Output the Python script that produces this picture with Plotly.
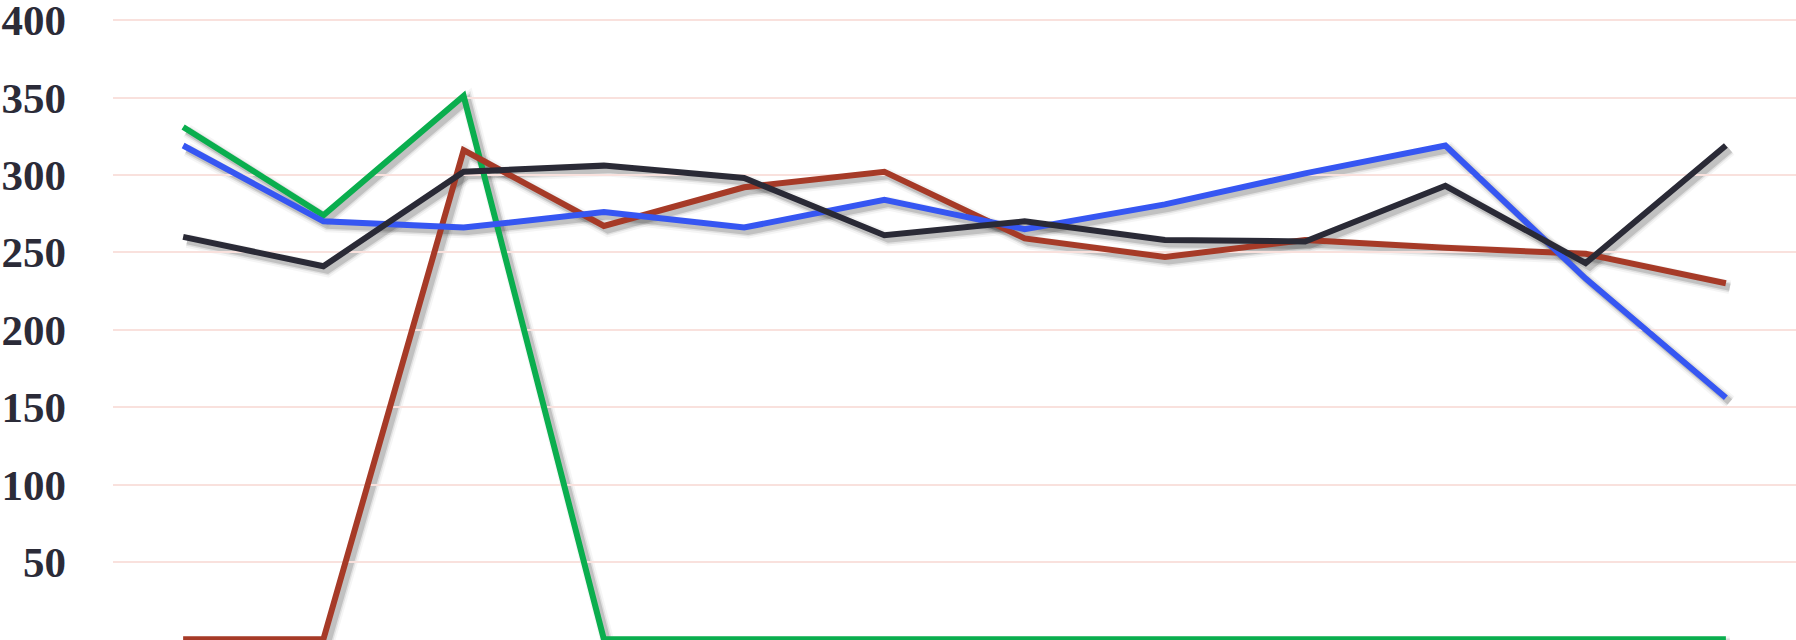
import plotly.graph_objects as go

# Monthly series
months = ["Jan", "Feb", "Mar", "Apr", "May", "Jun",
          "Jul", "Aug", "Sep", "Oct", "Nov", "Dec"]
green_vals = [331, 274, 351, 0, 0, 0, 0, 0, 0, 0, 0, 0]
red_vals = [0, 0, 316, 267, 292, 302, 259, 247, 258, 253, 249, 230]
blue_vals = [319, 270, 266, 276, 266, 284, 265, 281, 301, 319, 233, 156]
black_vals = [260, 241, 302, 306, 298, 261, 270, 258, 257, 293, 243, 319]
tick_vals = [0, 50, 100, 150, 200, 250, 300, 350, 400]
tick_text = ["", "50", "100", "150", "200", "250", "300", "350", "400"]

series = [
    ("green", green_vals, "#0aae4e"),
    ("red", red_vals, "#a63a27"),
    ("blue", blue_vals, "#3656f2"),
    ("black", black_vals, "#2a2a36"),
]

W, H = 1796, 640
ML = 113
PW, PH = W - ML, H
X_RANGE = [-0.5, len(months) - 0.5]
Y_RANGE = [-0.45, 413.0]
sx = PW / (X_RANGE[1] - X_RANGE[0])
sy = PH / (Y_RANGE[1] - Y_RANGE[0])
OFF = 4  # drop-shadow offset in px
LW = 6

fig = go.Figure()

# shadow layer (subplot x/y, shifted right and down)
for name, vals, color in series:
    for width, alpha in ((14, 0.04), (10, 0.08), (7, 0.14)):
        fig.add_trace(go.Scatter(
            x=months, y=vals, mode="lines", xaxis="x", yaxis="y",
            line=dict(color=f"rgba(0,0,0,{alpha})", width=width),
            hoverinfo="skip", showlegend=False))

# main lines
for name, vals, color in series:
    fig.add_trace(go.Scatter(
        x=months, y=vals, mode="lines", name=name, xaxis="x2", yaxis="y2",
        line=dict(color=color, width=LW), showlegend=False))

fig.update_layout(
    width=W, height=H,
    margin=dict(l=ML, r=0, t=0, b=0, autoexpand=False),
    paper_bgcolor="white", plot_bgcolor="rgba(0,0,0,0)",
    showlegend=False,
    xaxis=dict(domain=[OFF / PW, 1], anchor="y", type="category",
               range=[X_RANGE[0], X_RANGE[1] - OFF / sx], automargin=False,
               visible=False, showgrid=False, zeroline=False),
    yaxis=dict(domain=[0, 1 - OFF / PH], anchor="x", automargin=False,
               range=[Y_RANGE[1] - (PH - OFF) / sy, Y_RANGE[1]],
               visible=False, showgrid=False, zeroline=False),
    xaxis2=dict(domain=[0, 1], anchor="y2", type="category", automargin=False,
                range=X_RANGE, showticklabels=False, showgrid=False,
                zeroline=False, showline=False, ticks=""),
    yaxis2=dict(domain=[0, 1], anchor="x2", range=Y_RANGE, automargin=False,
                tickvals=tick_vals, ticktext=tick_text,
                showgrid=True, gridcolor="#f9e1dd", gridwidth=1.5,
                zeroline=False, showline=False, ticks="",
                ticklabelstandoff=46, ticklabeloverflow="allow",
                tickfont=dict(family="Liberation Serif", size=43,
                              color="#2b2b38", weight="bold")),
)

fig.write_html("out.html")
